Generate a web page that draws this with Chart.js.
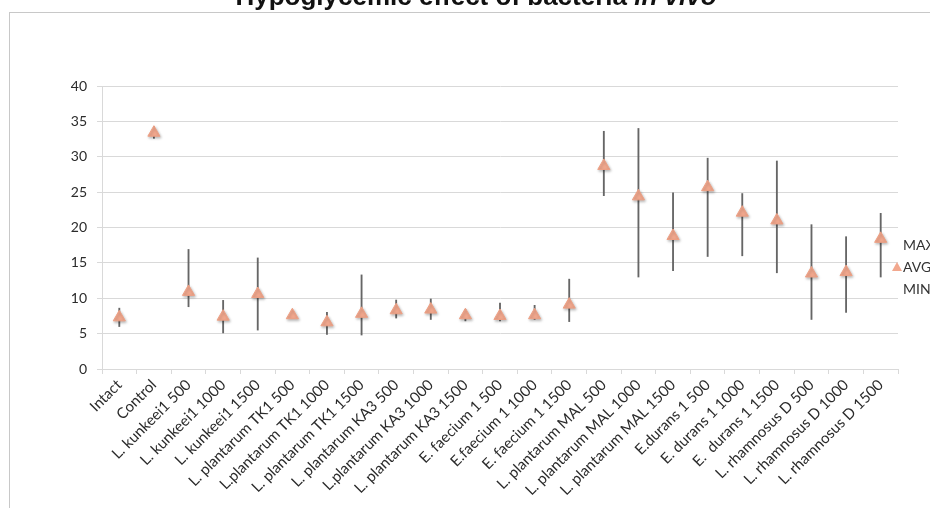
<!DOCTYPE html>
<html>
<head>
<meta charset="utf-8">
<script src="https://cdn.jsdelivr.net/npm/chart.js@4"></script>
<style>
  html, body { margin: 0; padding: 0; background: #fff; overflow: hidden; }
  #wrap { position: relative; width: 930px; height: 511px; }
  #frame { position: absolute; left: 9px; top: 12px; width: 1000px; height: 495px;
           border-top: 1px solid #c8c8c8; border-left: 1px solid #c8c8c8; }
  #title { position: absolute; left: 0; top: -17px; width: 952px; text-align: center;
           font: bold 26px "Liberation Sans", Arial, sans-serif; line-height: 26px; color: #111; white-space: nowrap; }
  #chartBox { position: absolute; left: 0; top: 0; width: 930px; height: 511px; }
  .leg { position: absolute; left: 903px; font: 14px Lato, sans-serif; color: #333; line-height: 14px; }
  .tri { position: absolute; left: 892px; width: 0; height: 0;
         border-left: 5px solid transparent; border-right: 5px solid transparent; border-bottom: 9px solid #f2a88e; }
</style>
</head>
<body>
<div id="wrap">
  <div id="frame"></div>
  <div id="chartBox"><canvas id="chartHypo"></canvas></div>
  <div id="title">Hypoglycemic effect of bacteria <i>in vivo</i></div>
  <div class="leg" style="top:238px">MAX</div>
  <div class="tri" style="top:262px"></div>
  <div class="leg" style="top:260px">AVG</div>
  <div class="leg" style="top:282px">MIN</div>
</div>
<script>
const categories = ["Intact", "Control", "L. kunkeei1 500", "L. kunkeei1 1000", "L. kunkeei1 1500",
  "L. plantarum TK1 500", "L.plantarum TK1 1000", "L. plantarum TK1 1500", "L. plantarum KA3 500",
  "L.plantarum KA3 1000", "L. plantarum KA3 1500", "E. faecium 1 500", "E.faecium 1 1000", "E. faecium 1 1500",
  "L. plantarum MAL 500", "L. plantarum MAL 1000", "L. plantarum MAL 1500", "E.durans 1 500", "E. durans 1 1000",
  "E.  durans 1 1500", "L. rhamnosus D 500", "L. rhamnosus D 1000", "L. rhamnosus D 1500"];
const maxVals = [8.6, 34.3, 16.9, 9.7, 15.7, 7.9, 8.0, 13.3, 9.75, 9.9, 8.4, 9.3, 9.0, 12.7, 33.6, 34.0, 24.9, 29.8, 24.8, 29.4, 20.4, 18.7, 22.0];
const avgVals = [7.3, 33.4, 10.9, 7.4, 10.6, 7.6, 6.6, 7.8, 8.3, 8.4, 7.6, 7.5, 7.6, 9.1, 28.7, 24.4, 18.8, 25.7, 22.1, 21.0, 13.5, 13.7, 18.4];
const minVals = [6.0, 32.6, 8.8, 5.1, 5.5, 7.3, 4.9, 4.8, 7.2, 7.0, 6.8, 6.8, 7.0, 6.7, 24.5, 13.0, 13.9, 15.9, 16.0, 13.6, 7.0, 8.0, 13.0];
const yTicks = [0, 5, 10, 15, 20, 25, 30, 35, 40];

// high-low line built from MIN/MAX
const hiLow = minVals.map((v, i) => [v, maxVals[i]]);

// soft shadow under the AVG triangles, like the Excel markers
const markerShadow = {
  id: "markerShadow",
  beforeDatasetDraw(chart, args) {
    if (args.index !== 0) return;
    const ctx = chart.ctx;
    ctx.save();
    ctx.shadowColor = "rgba(0,0,0,0.28)";
    ctx.shadowBlur = 3;
    ctx.shadowOffsetX = 1;
    ctx.shadowOffsetY = 1.5;
  },
  afterDatasetDraw(chart, args) {
    if (args.index === 0) chart.ctx.restore();
  },
};

new Chart(document.querySelector("#chartHypo"), {
  type: "bar",
  data: {
    labels: categories,
    datasets: [
      {
        type: "line",
        label: "AVG",
        data: avgVals,
        showLine: false,
        pointStyle: "triangle",
        pointRadius: 7,
        pointHoverRadius: 7,
        backgroundColor: "#f2a88e",
        borderColor: "#eea084",
        borderWidth: 1,
        order: 1,
      },
      {
        label: "MAX-MIN",
        data: hiLow,
        backgroundColor: "#666666",
        barThickness: 1.2,
        borderWidth: 0,
        order: 2,
      },
    ],
  },
  options: {
    responsive: true,
    maintainAspectRatio: false,
    animation: false,
    layout: { padding: { left: 0, right: 32, top: 86, bottom: 0 } },
    scales: {
      x: {
        offset: true,
        grid: { offset: true, drawOnChartArea: false, color: "#d9d9d9", tickLength: 5 },
        border: { color: "#d9d9d9" },
        ticks: { minRotation: 45, maxRotation: 45, autoSkip: false, padding: 2,
                 color: "#2b2b2b", font: { family: "Lato", size: 15 } },
        afterFit: (s) => { s.height = 142; },
      },
      y: {
        min: 0,
        max: 40,
        afterBuildTicks: (s) => { s.ticks = yTicks.map((v) => ({ value: v })); },
        grid: { color: "#d9d9d9", tickLength: 5 },
        border: { color: "#d9d9d9" },
        ticks: { padding: 10, color: "#2b2b2b", font: { family: "Lato", size: 14 } },
        afterFit: (s) => { s.width = 102; },
      },
    },
    plugins: {
      legend: { display: false },
      tooltip: { enabled: false },
    },
  },
  plugins: [markerShadow],
});
</script>
</body>
</html>
